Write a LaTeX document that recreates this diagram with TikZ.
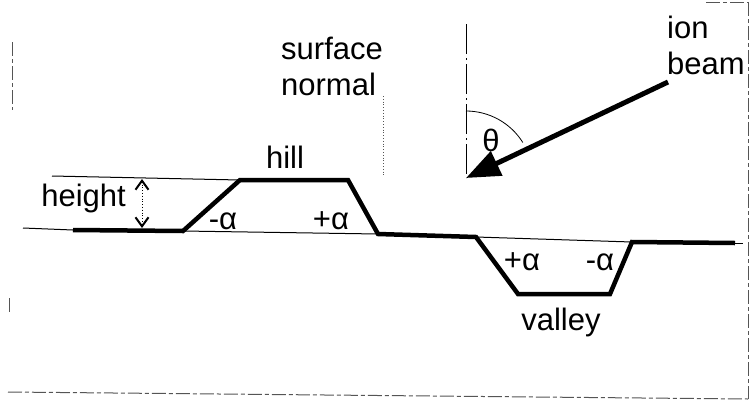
\documentclass[tikz,border=0pt]{standalone}
\usepackage{fontspec}
\setmainfont{Liberation Sans}
\usepackage{tikz}
\usetikzlibrary{arrows.meta}
\definecolor{scangray}{HTML}{555555}

\begin{document}
\begin{tikzpicture}[x=1pt, y=-1pt,
    surf/.style={line width=4.5pt, line join=miter},
    refline/.style={line width=1pt},
    frame/.style={draw=scangray, line width=1pt, dash pattern=on 14pt off 3pt on 4pt off 3pt},
    lbl/.style={inner sep=0pt, font=\fontsize{31}{36}\selectfont}]
    \useasboundingbox (0,0) rectangle (756,408);
    % scanned frame
    \draw[frame] (12,42) -- (12,110);
    \draw[frame] (9,298) -- (9,315);
    \draw[frame] (8,392) -- (748,399);
    \draw[frame] (748,2) -- (748,399);
    \draw[frame] (706,2) -- (748,2);
    % surface profile
    \coordinate (p0) at (73,230);
    \coordinate (p1) at (183,231);
    \coordinate (p2) at (240,180);
    \coordinate (p3) at (348,180);
    \coordinate (p4) at (378,234);
    \coordinate (p5) at (476,237);
    \coordinate (p6) at (518,294);
    \coordinate (p7) at (610,294);
    \coordinate (p8) at (632,242);
    \coordinate (p9) at (735,243);
    \coordinate (ref0) at (23,228);
    \coordinate (reftop) at (52,176);
    \draw[refline] (ref0) -- (p0);
    \draw[refline] (reftop) -- (p2);
    \draw[refline] (p1) -- (p4);
    \draw[refline] (p5) -- (p8);
    \draw[refline] (p9) -- ++(8,0);
    \draw[surf] (p0) -- (p1) -- (p2) -- (p3) -- (p4) -- (p5) -- (p6) -- (p7) -- (p8) -- (p9);
    % height
    \coordinate (htop) at (142,179);
    \coordinate (hbot) at (142,228);
    \draw[line width=0.8pt, dotted, {Straight Barb[length=9pt,width=13pt,line width=2pt]}-{Straight Barb[length=9pt,width=13pt,line width=2pt]}] (htop) -- (hbot);
    \node[lbl, anchor=east] (height) at (126,198) {height};
    % labels
    \node[lbl] (hill) at (285,157) {hill};
    \node[lbl] (hl) at (223,221) {-α};
    \node[lbl] (vl) at (522,262) {+α};
    \node[lbl] (hr) at (331,221) {+α};
    \node[lbl] (vr) at (600,262) {-α};
    \node[lbl] (valley) at (561,322) {valley};
    \node[lbl, anchor=north west, align=left] (normal) at (281,37) {surface\\normal};
    \draw[scangray, line width=0.8pt, dotted] (383,96) -- (383,176);
    % ion beam
    \coordinate (tip) at (466,178);
    \coordinate (src) at (668,82);
    \coordinate (ntop) at (466,24);
    \draw[line width=1pt, dash pattern=on 30pt off 4pt on 2pt off 4pt] (ntop) -- (tip);
    \draw[line width=0.8pt] (466,111) arc[start angle=-90, end angle=-32, radius=67];
    \node[lbl] (theta) at (491,140) {θ};
    \draw[line width=5pt, -{Triangle[length=34pt,width=26pt]}] (src) -- (tip);
    \node[lbl, anchor=north west, align=left] (ion) at (667,16) {ion\\beam};
\end{tikzpicture}
\end{document}
